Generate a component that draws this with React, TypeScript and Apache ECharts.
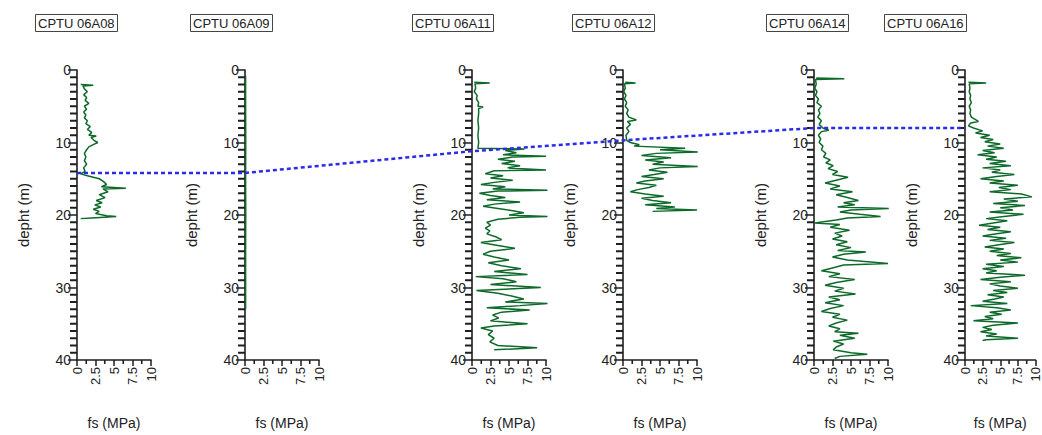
import React, { useEffect, useRef } from "react";
import * as echarts from "echarts";

const boreholes = ["CPTU 06A08", "CPTU 06A09", "CPTU 06A11", "CPTU 06A12", "CPTU 06A14", "CPTU 06A16"];
const fsTicks = [0, 2.5, 5, 7.5, 10];
const depthTicks = [0, 10, 20, 30, 40];
const depthMinorTicks = [1, 2, 3, 4, 5, 6, 7, 8, 9, 11, 12, 13, 14, 15, 16, 17, 18, 19, 21, 22, 23, 24, 25, 26, 27, 28, 29, 31, 32, 33, 34, 35, 36, 37, 38, 39];
const fsMinorTicks = [1.25, 3.75, 6.25, 8.75];

const boundaryDepth = [14.2, 14.2, 11.2, 9.7, 8.0, 8.0];

const a08Depth = [2.0, 2.1, 2.2, 2.6, 3.0, 3.4, 3.8, 4.2, 4.6, 5.0, 5.4, 5.8, 6.2, 6.6, 7.0, 7.4, 7.8, 8.2, 8.6, 9.0, 9.1, 9.3, 9.7, 10.0, 10.3, 10.6, 11.0, 11.5, 12.0, 12.5, 13.0, 13.5, 14.0, 14.3, 14.6, 15.0, 15.4, 15.8, 16.1, 16.3, 16.4, 16.8, 17.2, 17.6, 18.0, 18.3, 18.6, 18.9, 19.2, 19.5, 19.8, 20.1, 20.2, 20.4, 20.5];
const a08Fs = [0.5, 2.2, 0.8, 1.0, 1.4, 0.9, 1.3, 1.1, 1.6, 1.0, 1.3, 0.9, 1.2, 1.0, 1.4, 1.2, 1.8, 1.4, 2.0, 1.6, 2.6, 1.9, 2.3, 2.8, 2.2, 1.6, 1.3, 1.0, 1.2, 1.0, 1.3, 0.9, 1.1, 0.5, 1.4, 3.0, 3.6, 4.0, 3.3, 6.6, 3.5, 4.2, 3.0, 3.8, 2.6, 3.4, 2.4, 3.2, 2.2, 3.0, 2.5, 4.0, 5.3, 2.0, 0.5];

const a09Depth = [0.8, 5.0, 10.0, 15.0, 20.0, 25.0, 30.0, 33.0];
const a09Fs = [0.08, 0.08, 0.1, 0.08, 0.1, 0.08, 0.08, 0.08];

const a11Depth = [1.7, 1.8, 1.9, 2.5, 3.0, 3.5, 4.0, 4.5, 5.0, 5.1, 5.3, 6.0, 7.0, 8.0, 9.0, 10.0, 10.8, 10.9, 11.1, 11.4, 11.7, 11.9, 12.0, 12.3, 12.6, 12.9, 13.2, 13.5, 13.8, 13.9, 14.3, 14.6, 14.9, 15.2, 15.5, 15.8, 16.1, 16.4, 16.6, 16.7, 17.0, 17.3, 17.6, 17.9, 18.2, 18.5, 18.8, 19.1, 19.4, 19.7, 20.0, 20.2, 20.3, 20.6, 21.0, 21.4, 21.8, 22.2, 22.6, 23.0, 23.4, 23.8, 24.2, 24.6, 25.0, 25.4, 25.8, 26.2, 26.6, 27.0, 27.4, 27.8, 28.2, 28.5, 28.8, 29.2, 29.6, 30.0, 30.4, 30.8, 31.2, 31.6, 32.0, 32.2, 32.5, 32.8, 33.1, 33.4, 33.8, 34.2, 34.6, 35.0, 35.3, 35.6, 36.0, 36.5, 37.0, 37.5, 38.0, 38.3, 38.6];
const a11Fs = [0.3, 2.4, 0.4, 0.5, 0.3, 0.7, 0.6, 0.9, 0.8, 1.5, 0.9, 0.9, 0.8, 0.9, 0.8, 0.9, 0.8, 7.1, 4.5, 6.0, 4.2, 10.0, 5.5, 3.5, 5.8, 4.0, 6.5, 4.8, 10.0, 3.0, 1.8, 4.2, 2.5, 5.5, 3.0, 1.2, 4.5, 2.8, 10.2, 3.5, 1.0, 2.5, 4.5, 2.0, 6.5, 3.0, 1.5, 3.5, 5.5, 7.0, 5.0, 10.2, 6.5, 3.5, 2.0, 2.5, 1.8, 2.4, 2.0, 3.2, 4.0, 1.2, 3.5, 5.8, 2.5, 1.5, 3.0, 5.0, 2.2, 4.0, 6.6, 3.0, 7.5, 0.5, 4.2, 6.0, 2.5, 9.3, 0.6, 3.5, 5.5, 7.0, 4.5, 10.2, 6.5, 2.0, 7.8, 4.0, 2.8, 3.6, 2.5, 7.5, 3.0, 1.2, 2.8, 2.2, 3.0, 2.4, 3.5, 8.8, 3.0];

const a12Depth = [1.7, 1.8, 1.9, 2.5, 3.0, 3.5, 4.0, 4.5, 5.0, 5.5, 6.0, 6.5, 6.9, 7.1, 7.5, 8.0, 8.5, 9.0, 9.7, 10.0, 10.3, 10.5, 10.8, 11.0, 11.3, 11.5, 11.8, 12.1, 12.4, 12.7, 13.0, 13.3, 13.5, 13.8, 14.1, 14.4, 14.7, 15.0, 15.3, 15.6, 15.9, 16.2, 16.5, 16.8, 17.1, 17.4, 17.7, 18.0, 18.3, 18.6, 18.9, 19.1, 19.3, 19.5];
const a12Fs = [0.3, 1.7, 0.2, 0.3, 0.1, 0.4, 0.2, 0.5, 0.3, 0.7, 0.5, 0.8, 1.8, 0.6, 1.0, 0.5, 0.8, 0.4, 0.5, 1.0, 2.2, 1.5, 8.4, 5.0, 10.1, 4.5, 2.5, 6.5, 3.0, 5.5, 4.0, 10.1, 5.0, 3.5, 6.0, 4.2, 2.5, 5.5, 3.0, 1.8, 4.5, 3.5, 2.0, 1.0, 3.0, 5.5, 2.5, 4.0, 6.5, 3.0, 7.0, 4.5, 10.0, 4.0];

const a14Depth = [1.1, 1.2, 1.3, 2.0, 2.5, 3.0, 3.5, 4.0, 4.5, 5.0, 5.5, 6.0, 6.5, 7.0, 7.5, 8.0, 8.3, 8.5, 9.0, 9.5, 10.0, 10.5, 11.0, 11.5, 12.0, 12.4, 12.8, 13.2, 13.6, 14.0, 14.4, 14.8, 15.2, 15.6, 16.0, 16.4, 16.8, 17.2, 17.6, 18.0, 18.3, 18.6, 18.9, 19.1, 19.3, 19.6, 19.9, 20.2, 20.4, 20.7, 21.1, 21.3, 21.7, 22.1, 22.5, 22.9, 23.3, 23.7, 24.1, 24.5, 24.9, 25.1, 25.4, 25.8, 26.2, 26.7, 26.9, 27.3, 27.7, 28.1, 28.5, 28.9, 29.3, 29.7, 30.1, 30.5, 30.9, 31.3, 31.7, 32.1, 32.5, 32.9, 33.3, 33.7, 34.1, 34.5, 34.9, 35.3, 35.7, 36.1, 36.3, 36.6, 37.0, 37.4, 37.8, 38.2, 38.6, 39.0, 39.2, 39.5, 39.8];
const a14Fs = [0.3, 4.1, 0.2, 0.3, 0.1, 0.4, 0.2, 0.6, 0.4, 1.0, 0.6, 0.8, 0.5, 1.0, 0.7, 1.2, 2.0, 1.0, 0.6, 0.9, 0.7, 1.2, 1.0, 1.6, 1.3, 2.2, 1.6, 2.6, 1.9, 3.2, 2.5, 4.6, 3.0, 1.5, 3.5, 2.2, 5.2, 3.0, 4.5, 6.0, 4.0, 5.5, 3.2, 10.1, 5.0, 3.5, 6.2, 9.0, 4.5, 3.0, 0.1, 3.5, 2.2, 4.8, 2.8, 3.8, 2.5, 4.5, 3.0, 5.0, 3.2, 7.0, 4.0, 2.5, 4.5, 10.0, 4.0, 2.5, 1.0, 3.5, 2.0, 5.5, 3.0, 1.5, 4.0, 2.8, 5.6, 2.0, 3.5, 1.5, 4.0, 2.2, 1.0, 3.5, 2.5, 4.5, 3.0, 2.0, 3.5, 2.8, 6.0, 3.5, 5.5, 2.6, 4.0, 3.0, 2.6, 5.0, 7.2, 3.5, 2.8];

const a16Depth = [1.7, 1.8, 1.9, 2.5, 3.0, 3.5, 4.0, 4.5, 5.0, 5.5, 6.0, 6.5, 7.1, 7.3, 7.7, 8.0, 8.4, 8.7, 9.0, 9.3, 9.6, 9.9, 10.2, 10.5, 10.8, 11.1, 11.4, 11.7, 12.0, 12.3, 12.6, 12.9, 13.2, 13.5, 13.8, 14.1, 14.4, 14.7, 15.0, 15.3, 15.6, 15.9, 16.2, 16.5, 16.8, 17.1, 17.5, 17.8, 18.1, 18.4, 18.7, 19.0, 19.3, 19.6, 19.9, 20.2, 20.5, 20.8, 21.1, 21.4, 21.7, 22.0, 22.3, 22.6, 22.9, 23.2, 23.5, 23.8, 24.1, 24.4, 24.7, 25.0, 25.3, 25.6, 25.9, 26.2, 26.5, 26.8, 27.1, 27.4, 27.7, 28.0, 28.3, 28.6, 28.9, 29.2, 29.5, 29.8, 30.1, 30.4, 30.7, 31.0, 31.3, 31.6, 31.9, 32.2, 32.5, 32.8, 33.1, 33.4, 33.7, 34.0, 34.3, 34.6, 34.9, 35.2, 35.5, 35.8, 36.1, 36.4, 36.7, 37.0, 37.2, 37.3];
const a16Fs = [0.5, 3.0, 0.6, 0.7, 0.6, 0.8, 0.7, 0.9, 0.6, 0.8, 0.7, 0.9, 1.9, 0.8, 0.5, 1.2, 2.5, 1.5, 3.5, 2.2, 4.0, 2.8, 5.0, 3.2, 5.5, 2.5, 4.2, 1.8, 4.5, 3.0, 5.8, 3.5, 6.5, 2.5, 5.0, 3.8, 7.0, 4.5, 2.2, 5.5, 3.5, 7.5, 4.8, 6.5, 3.5, 8.0, 9.5, 5.5, 7.5, 4.0, 8.5, 5.0, 6.8, 3.5, 8.3, 5.5, 3.0, 6.0, 4.0, 2.0, 5.0, 3.2, 6.5, 4.5, 2.5, 5.8, 3.5, 7.0, 4.8, 2.8, 5.5, 3.5, 6.5, 4.5, 8.0, 5.0, 7.5, 3.0, 5.5, 2.5, 4.5, 3.0, 8.5, 5.0, 2.2, 6.5, 3.5, 5.0, 7.5, 4.0, 6.0, 3.2, 5.5, 4.2, 2.5, 6.0, 0.8, 4.5, 6.5, 3.5, 5.2, 2.8, 4.0, 1.2, 7.5, 4.0, 2.5, 3.8, 2.2, 4.5, 3.0, 7.5, 3.0, 2.5];

const profileDepths = [a08Depth, a09Depth, a11Depth, a12Depth, a14Depth, a16Depth];
const profileFs = [a08Fs, a09Fs, a11Fs, a12Fs, a14Fs, a16Fs];

const gridLefts = [77, 245, 472, 623, 814, 965];
const titleLefts = [35, 190, 412, 572, 766, 884];
const FONT = "Liberation Sans, Arial, sans-serif";
const AXIS = "#1e1e1e";

export default function App() {
  const ref = useRef<HTMLDivElement>(null);
  useEffect(() => {
    const chart = echarts.init(ref.current!, null, { renderer: "svg" });
    const grids = gridLefts.map((l) => ({ left: l, top: 70, width: 74, height: 290 }));
    const fsMin = fsTicks[0];
    const fsMax = fsTicks[fsTicks.length - 1];
    const dMin = depthTicks[0];
    const dMax = depthTicks[depthTicks.length - 1];
    const xAxes = gridLefts.map((_, i) => ({
      type: "value",
      gridIndex: i,
      min: fsMin,
      max: fsMax,
      interval: fsTicks[1] - fsTicks[0],
      position: "bottom",
      name: "fs (MPa)",
      nameLocation: "middle",
      nameGap: 56,
      nameTextStyle: { fontSize: 14, color: "#222", fontFamily: FONT },
      axisLine: { onZero: false, lineStyle: { color: AXIS, width: 1.6 } },
      axisTick: { show: true, length: 6, lineStyle: { color: AXIS, width: 1.5 } },
      axisLabel: { rotate: 90, fontSize: 13, color: "#222", margin: 7, fontFamily: FONT },
      splitLine: { show: false },
    }));
    const yAxes = gridLefts.map((_, i) => ({
      type: "value",
      gridIndex: i,
      inverse: true,
      position: "left",
      min: dMin,
      max: dMax,
      interval: depthTicks[1] - depthTicks[0],
      name: "depht (m)",
      nameLocation: "middle",
      nameGap: 46,
      nameRotate: 90,
      nameTextStyle: { fontSize: 15, color: "#222", fontFamily: FONT },
      axisLine: { onZero: false, lineStyle: { color: AXIS, width: 1.6 } },
      axisTick: { show: true, length: 9, lineStyle: { color: AXIS, width: 1.5 } },
      axisLabel: { fontSize: 14, color: "#222", margin: 6, fontFamily: FONT },
      splitLine: { show: false },
    }));
    const profileSeries = profileDepths.map((depths, i) => ({
      type: "line",
      xAxisIndex: i,
      yAxisIndex: i,
      showSymbol: false,
      symbol: "none",
      z: 5,
      lineStyle: { color: "#0d6a2a", width: 1.5 },
      data: depths.map((d, k) => [profileFs[i][k], d]),
    }));
    const tickSeries = gridLefts.map((_, i) => ({
      type: "scatter",
      xAxisIndex: i,
      yAxisIndex: i,
      silent: true,
      clip: false,
      z: 4,
      symbol: "rect",
      symbolSize: [7, 2],
      symbolOffset: [-3.5, 0],
      itemStyle: { color: AXIS, opacity: 1 },
      data: depthMinorTicks.map((d) => [fsMin, d]),
    }));
    const fsTickSeries = gridLefts.map((_, i) => ({
      type: "scatter",
      xAxisIndex: i,
      yAxisIndex: i,
      silent: true,
      clip: false,
      z: 4,
      symbol: "rect",
      symbolSize: [1.6, 4],
      symbolOffset: [0, 2],
      itemStyle: { color: AXIS, opacity: 1 },
      data: fsMinorTicks.map((f) => [f, dMax]),
    }));
    const titles = boreholes.map((b, i) => ({
      text: b,
      left: titleLefts[i],
      top: 14,
      padding: [3, 3, 2, 3],
      borderColor: "#444",
      borderWidth: 1,
      textStyle: { fontSize: 13, fontWeight: "normal", color: "#222", fontFamily: FONT },
    }));
    chart.setOption({
      animation: false,
      backgroundColor: "#fff",
      title: titles,
      grid: grids,
      xAxis: xAxes,
      yAxis: yAxes,
      series: [...profileSeries, ...tickSeries, ...fsTickSeries],
    });

    const pts = boundaryDepth.map(
      (d, i) => chart.convertToPixel({ xAxisIndex: i, yAxisIndex: i }, [fsMin, d]) as number[]
    );
    chart.setOption({
      graphic: [
        {
          type: "polyline",
          id: "boundary",
          z: 100,
          silent: true,
          shape: { points: pts },
          style: { stroke: "#2b2bea", lineWidth: 2.5, lineDash: [4, 3], fill: null },
        },
      ],
    });
    return () => chart.dispose();
  }, []);
  return (
    <div
      ref={ref}
      style={{ position: "fixed", left: 0, top: 0, width: 1042, height: 435, background: "#fff" }}
    />
  );
}
